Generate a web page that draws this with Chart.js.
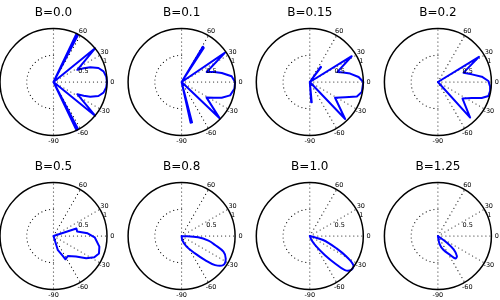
<!DOCTYPE html>
<html><head><meta charset="utf-8">
<script src="https://cdn.jsdelivr.net/npm/chart.js@4"></script>
<style>
html,body{margin:0;padding:0;background:#fff;width:500px;height:300px;overflow:hidden}
.cell{position:absolute;width:125px;height:150px}
canvas{display:block}
</style></head>
<body>
<div class="cell" style="left:0px;top:0px"><canvas id="c0" width="125" height="150"></canvas></div>
<div class="cell" style="left:125px;top:0px"><canvas id="c1" width="125" height="150"></canvas></div>
<div class="cell" style="left:250px;top:0px"><canvas id="c2" width="125" height="150"></canvas></div>
<div class="cell" style="left:375px;top:0px"><canvas id="c3" width="125" height="150"></canvas></div>
<div class="cell" style="left:0px;top:150px"><canvas id="c4" width="125" height="150"></canvas></div>
<div class="cell" style="left:125px;top:150px"><canvas id="c5" width="125" height="150"></canvas></div>
<div class="cell" style="left:250px;top:150px"><canvas id="c6" width="125" height="150"></canvas></div>
<div class="cell" style="left:375px;top:150px"><canvas id="c7" width="125" height="150"></canvas></div>
<script>
// ---- data ----
const panelTitles = ["B=0.0", "B=0.1", "B=0.15", "B=0.2", "B=0.5", "B=0.8", "B=1.0", "B=1.25"];
const thetaTickAngles = [60, 30, 0, -30, -60, -90];
const thetaTickLabels = ["60", "30", "0", "-30", "-60", "-90"];
const thetaGridAngles = [90, 60, 30, 0, -30, -60, -90];
const radialTickValues = [0.5, 1];
const radialTickLabels = ["0.5", "1"];

// curves: angle (degrees) and radius
const theta_B000 = [90, 66, 64.5, 62.5, 61, 42, 39, 27, 24.5, 21.8, 17.3, 12, 6, 0, -6, -12, -17.3, -21.8, -24.5, -27, -39, -42, -61, -62.5, -64.5, -66, -90];
const r_B000     = [0, 0, 1.0, 0.99, 0, 0, 1.0, 0.5, 0.62, 0.74, 0.88, 0.956, 0.99, 1.0, 0.99, 0.956, 0.88, 0.74, 0.62, 0.5, 1.0, 0, 0, 0.99, 1.0, 0, 0];

const theta_B010 = [90, 61, 59, 57, 55, 37, 34, 21.8, 17, 12.7, 6.5, 0, -7.2, -15.4, -21.4, -26, -32, -43.7, -46, -73.5, -75.5, -77.5, -80, -90];
const r_B010     = [0, 0, 0.77, 0.76, 0, 0, 0.98, 0.505, 0.64, 0.77, 0.94, 1.0, 0.995, 0.94, 0.805, 0.67, 0.55, 0.99, 0, 0, 0.78, 0.78, 0, 0];

const theta_B015 = [90, 56, 54.5, 53, 51, 34, 31.6, 20, 16, 11.8, 5.9, 0, -11, -17, -23.2, -32, -46.3, -48.5, -83, -84.5, -86, -88, -90];
const r_B015     = [0, 0, 0.35, 0.35, 0, 0, 0.92, 0.55, 0.65, 0.77, 0.917, 1.0, 0.99, 0.92, 0.72, 0.557, 0.956, 0, 0, 0.38, 0.38, 0, 0];

const theta_B020 = [90, 34, 31.5, 20, 12.7, 6.9, 1.1, -5.1, -9.8, -15.4, -20, -25.2, -34, -47.8, -50, -90];
const r_B020     = [0, 0, 0.90, 0.51, 0.65, 0.826, 0.944, 0.98, 0.99, 0.98, 0.87, 0.70, 0.555, 0.897, 0, 0];

const theta_B050 = [90, 19, 18, 10.7, 4.5, -1.8, -13, -21, -27.5, -34.3, -42.4, -54.4, -62.8, -65, -73, -90];
const r_B050     = [0, 0, 0.45, 0.45, 0.64, 0.77, 0.88, 0.91, 0.86, 0.74, 0.57, 0.46, 0.49, 0.41, 0.27, 0];

const theta_B080 = [90, 0, -4.6, -9.9, -15.1, -20.6, -26.9, -34.8, -41, -45.8, -52.4, -64.9, -80, -90];
const r_B080     = [0, 0, 0.31, 0.51, 0.65, 0.835, 0.925, 0.95, 0.83, 0.63, 0.41, 0.22, 0.08, 0];

const theta_B100 = [90, -15, -16.7, -24.8, -29.4, -33.8, -39.2, -44.2, -47.5, -51.7, -58, -67, -90];
const r_B100     = [0, 0, 0.26, 0.55, 0.79, 0.98, 1.0, 0.915, 0.69, 0.45, 0.236, 0.08, 0];

const theta_B125 = [90, -33, -36.5, -40.4, -46.5, -52.2, -57, -68, -78, -90];
const r_B125     = [0, 0, 0.21, 0.386, 0.517, 0.53, 0.425, 0.283, 0.153, 0];

const curveThetas = [theta_B000, theta_B010, theta_B015, theta_B020, theta_B050, theta_B080, theta_B100, theta_B125];
const curveRadii  = [r_B000, r_B010, r_B015, r_B020, r_B050, r_B080, r_B100, r_B125];

// ---- layout (pixels inside each 125x150 cell) ----
const RADIUS_PX = 53.5;
const centerXInCell = [53.5, 56.6, 59.8, 62.9];
const centerYInCell = [82, 86];
const CELL_W = 125, CELL_H = 150;
const smoothPanel = [false, false, false, false, false, true, true, true];
const DOT_STEP = 4;

const DEG = Math.PI / 180;
const toXY = (th, r) => ({ x: r * Math.cos(th * DEG), y: r * Math.sin(th * DEG) });

function dot(ctx, x, y) {
  ctx.beginPath(); ctx.arc(x, y, 0.6, 0, 2 * Math.PI); ctx.fill();
}

const polarFrame = {
  id: 'polarFrame',
  beforeDatasetsDraw(chart, args, opts) {
    const { ctx, scales: { x, y } } = chart;
    const P = (th, r) => { const p = toXY(th, r); return [x.getPixelForValue(p.x), y.getPixelForValue(p.y)]; };
    const [cx, cy] = P(0, 0);
    const R = x.getPixelForValue(1) - x.getPixelForValue(0);
    ctx.save();
    ctx.fillStyle = '#111';
    // dotted theta grid rays
    thetaGridAngles.forEach(t => {
      const [px, py] = P(t, 1);
      const len = Math.hypot(px - cx, py - cy);
      for (let d = 0; d <= len; d += DOT_STEP) {
        dot(ctx, cx + (px - cx) * d / len, cy + (py - cy) * d / len);
      }
    });
    // dotted half circle at r = 0.5 (left half)
    const rr = R * radialTickValues[0];
    const n = Math.round(Math.PI * rr / DOT_STEP);
    for (let k = 0; k <= n; k++) {
      const a = Math.PI / 2 + Math.PI * k / n;
      dot(ctx, cx + rr * Math.cos(a), cy + rr * Math.sin(a));
    }
    ctx.restore();
  },
  afterDatasetsDraw(chart, args, opts) {
    const { ctx, scales: { x, y } } = chart;
    const P = (th, r) => { const p = toXY(th, r); return [x.getPixelForValue(p.x), y.getPixelForValue(p.y)]; };
    const [cx, cy] = P(0, 0);
    const R = x.getPixelForValue(1) - x.getPixelForValue(0);
    ctx.save();
    ctx.strokeStyle = '#000';
    ctx.lineWidth = 1.5;
    ctx.beginPath(); ctx.arc(cx, cy, R, 0, 2 * Math.PI); ctx.stroke();
    ctx.fillStyle = '#000';
    ctx.font = '6.5px "DejaVu Sans"';
    ctx.textAlign = 'center'; ctx.textBaseline = 'middle';
    thetaTickAngles.forEach((t, i) => {
      const [px, py] = P(t, 1.1);
      ctx.fillText(thetaTickLabels[i], px, py);
    });
    ctx.textAlign = 'left';
    radialTickValues.forEach((v, i) => {
      const [px, py] = P(22.5, v);
      ctx.fillText(radialTickLabels[i], px, py);
    });
    ctx.font = '12px "DejaVu Sans"';
    ctx.textAlign = 'center';
    ctx.fillText(opts.title, cx, cy - 69);
    ctx.restore();
  }
};

panelTitles.forEach((title, i) => {
  const col = i % 4, row = Math.floor(i / 4);
  const cxl = centerXInCell[col], cyl = centerYInCell[row];
  const pts = curveThetas[i].map((t, k) => toXY(t, curveRadii[i][k]));
  new Chart(document.getElementById('c' + i), {
    type: 'scatter',
    data: { datasets: [{ data: pts, showLine: true, borderColor: '#0000ff', borderWidth: 2,
      pointRadius: 0, tension: smoothPanel[i] ? 0.35 : 0, clip: false,
      borderJoinStyle: 'round', borderCapStyle: 'round' }] },
    options: {
      responsive: false, animation: false, events: [],
      layout: { padding: 0 },
      plugins: { legend: { display: false }, tooltip: { enabled: false }, polarFrame: { title } },
      scales: {
        x: { type: 'linear', display: false, min: -cxl / RADIUS_PX, max: (CELL_W - cxl) / RADIUS_PX },
        y: { type: 'linear', display: false, min: -(CELL_H - cyl) / RADIUS_PX, max: cyl / RADIUS_PX }
      }
    },
    plugins: [polarFrame]
  });
});
</script>
</body></html>
